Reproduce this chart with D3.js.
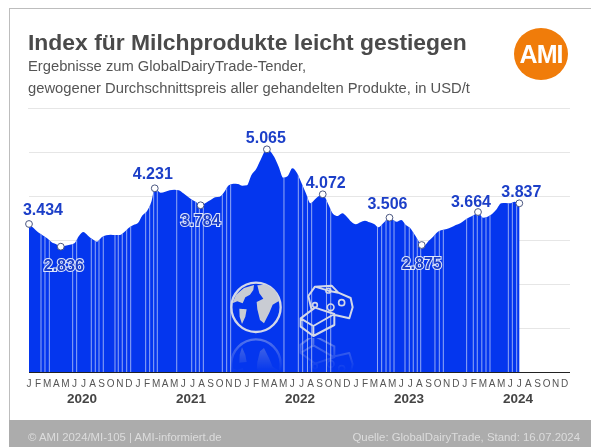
<!DOCTYPE html>
<html><head><meta charset="utf-8">
<script src="https://cdnjs.cloudflare.com/ajax/libs/d3/7.8.5/d3.min.js"></script>
<style>html,body{margin:0;padding:0;background:#fff}svg{display:block;filter:blur(0.35px)}text{font-family:"Liberation Sans",Arial,sans-serif}</style>
</head><body><div id="c"></div>
<script>
// Tender position in months since Jan 2020
const months = [0,.5,1,1.5,2,2.5,3,3.5,4,4.5,5,5.5,6,6.5,7,7.5,8,8.5,9,9.5,10,10.5,11,11.5,12,12.5,13,13.5,13.85,14.5,15,15.5,16,16.5,17,17.5,18,18.5,18.9,19.5,20,20.5,21,21.5,22,22.5,23,23.5,24,24.5,25,25.5,26.2,26.5,27,27.5,28,28.5,29,29.5,30,30.5,31,31.5,32.35,32.5,33,33.5,34,34.5,35,35.5,36,36.5,37,37.5,38,38.5,39,39.7,40,40.5,41,41.5,42,42.5,43.25,43.5,44,44.5,45,45.5,46,46.5,47,47.5,48,48.5,49,49.45,50,50.5,51,51.5,52,52.5,53,53.5,54];
const indexValues = [3364,3273,3175,3107,3039,2948,2902,2848,2870,2893,2925,3091,3182,3098,3016,2961,3061,3107,3120,3114,3114,3182,3280,3341,3386,3561,3659,3886,4175,4075,4098,4130,4143,4130,4061,3984,3909,3848,3789,3848,3909,3970,3984,4091,4243,4280,4273,4234,4243,4477,4607,4818,5061,5030,4893,4666,4416,4455,4630,4530,4302,4061,3834,3925,4039,4007,3795,3591,3545,3607,3530,3416,3357,3402,3439,3402,3364,3289,3380,3507,3470,3416,3455,3341,3266,3114,2886,2865,2977,3075,3182,3227,3250,3289,3341,3380,3455,3516,3568,3636,3507,3530,3591,3698,3834,3841,3834,3870,3834];
const stripeMonths = [1.32,1.76,2.24,4.81,5.25,6.86,7.3,7.71,8.18,9.47,9.83,10.27,10.76,11.2,12.85,13.29,13.73,14.13,16.27,17.92,18.36,18.76,19.2,21.29,21.77,22.21,28.08,29.66,30.14,30.67,31.13,32.76,33.23,38.38,38.84,39.32,39.76,40.2,41.41,41.88,42.32,42.76,43.14,44.71,45.19,45.63,48.2,48.93,49.37,49.87,50.33,50.77,52.79,53.23,53.71];
const calloutIdx = [0,7,28,38,52,64,79,86,99,108];
const calloutText = ["3.434","2.836","4.231","3.784","5.065","4.072","3.506","2.875","3.664","3.837"];
const calloutInside = [false,true,false,true,false,false,false,true,false,false];
const calloutDx = [14,3,-2,0,-1,3,-2,0,-7,2];
const calloutDy = [-9,24,-9,21,-6,-6,-9,24,-5,-6];
const monthLetters = "JFMAMJJASOND".split("");
const years = [2020,2021,2022,2023,2024];
const gridValues = [1000,2000,3000,4000,5000];

const W=591,H=447;
const svg=d3.select("#c").append("svg").attr("width",W).attr("height",H);
const x=d3.scaleLinear().domain([0,60]).range([29,573.8]);
const y=d3.scaleLinear().domain([0,5000]).range([372,152]);

// frame
svg.append("line").attr("x1",9).attr("x2",591).attr("y1",8.5).attr("y2",8.5).attr("stroke","#bdbdbd");
svg.append("line").attr("x1",9.5).attr("x2",9.5).attr("y1",8).attr("y2",420).attr("stroke","#bdbdbd");
svg.append("rect").attr("x",9).attr("y",420).attr("width",582).attr("height",27).attr("fill","#acacac");

// heading
svg.append("text").attr("x",28).attr("y",50).attr("font-size",22.9).attr("font-weight",700).attr("fill","#4a4a4a").text("Index für Milchprodukte leicht gestiegen");
svg.append("text").attr("x",28).attr("y",71).attr("font-size",14.75).attr("fill","#555").text("Ergebnisse zum GlobalDairyTrade-Tender,");
svg.append("text").attr("x",28).attr("y",93).attr("font-size",14.75).attr("fill","#555").text("gewogener Durchschnittspreis aller gehandelten Produkte, in USD/t");
svg.append("line").attr("x1",28).attr("x2",570).attr("y1",108.5).attr("y2",108.5).attr("stroke","#e6e6e6");

// logo
svg.append("ellipse").attr("cx",541).attr("cy",54).attr("rx",27).attr("ry",26).attr("fill","#f07c0a");
svg.append("text").attr("x",541).attr("y",63).attr("text-anchor","middle").attr("font-size",25).attr("font-weight",700).attr("letter-spacing",-1).attr("fill","#fff").text("AMI");

// gridlines
const grid=svg.append("g").attr("transform","translate(29,0)")
  .call(d3.axisRight(y).tickValues(gridValues).tickSize(541).tickFormat(""));
grid.select(".domain").remove();
grid.selectAll("line").attr("stroke","#e6e6e6");

// area
const area=d3.area().curve(d3.curveMonotoneX).x((d,i)=>x(months[i])).y0(y(0)).y1(d=>y(d));
svg.append("path").datum(indexValues).attr("d",area).attr("fill","#0436ee");
const clip=svg.append("clipPath").attr("id","ac");
clip.append("path").datum(indexValues).attr("d",area);
svg.append("g").attr("clip-path","url(#ac)").selectAll("line").data(stripeMonths).join("line")
  .attr("x1",d=>x(d)).attr("x2",d=>x(d)).attr("y1",y(0)).attr("y2",y(5200))
  .attr("stroke","#94aaf4").attr("stroke-width",1);

// icons
const stroke="#d3d8e8";
function globe(g){
  g.append("circle").attr("cx",168).attr("cy",112).attr("r",74).attr("fill","none").attr("stroke",stroke).attr("stroke-width",7);
  g.append("path").attr("fill","#c9ccd3").attr("d","M97,100L108,74L132,54L162,45L160,60L150,74L136,82L128,100L112,94Z M118,116L140,118L136,140L126,162L119,140Z M172,46L200,44L228,64L238,92L218,104L208,128L192,160L180,150L172,118L170,96L190,86L178,70Z");
}
function cheese(g){
  g.append("path").attr("fill","none").attr("stroke",stroke).attr("stroke-width",6).attr("stroke-linejoin","round")
   .attr("d","M325,78L345,50L395,47L415,68L452,84L458,112L448,145L405,135M325,78L335,120M345,50L385,62L415,68M302,145L345,113L403,132L403,165L340,198L302,170Z M302,145L340,168L403,132M340,168L340,198");
  g.append("g").selectAll("circle").data([[385,62,7],[425,98,9],[392,112,10],[345,105,7]]).join("circle")
   .attr("cx",d=>d[0]).attr("cy",d=>d[1]).attr("r",d=>d[2]).attr("fill","none").attr("stroke",stroke).attr("stroke-width",5);
}
const defs=svg.append("defs");
const lg=defs.append("linearGradient").attr("id","fade").attr("x1",0).attr("x2",0).attr("y1",0).attr("y2",1);
lg.append("stop").attr("offset",0).attr("stop-color","#fff").attr("stop-opacity",.4);
lg.append("stop").attr("offset",1).attr("stop-color","#fff").attr("stop-opacity",0);
defs.append("mask").attr("id","fm").attr("maskUnits","userSpaceOnUse").attr("x",220).attr("y",338).attr("width",140).attr("height",34)
  .append("rect").attr("x",220).attr("y",338).attr("width",140).attr("height",34).attr("fill","url(#fade)");
const icons=svg.append("g").attr("transform","translate(200,270) scale(0.3333)");
globe(icons);cheese(icons);
const refl=svg.append("g").attr("mask","url(#fm)").append("g").attr("transform","translate(200,270) scale(0.3333) translate(0,394) scale(1,-1)");
globe(refl);cheese(refl);

// month and year axis
const ax=svg.append("g").attr("transform",`translate(0,${y(0)+0.5})`)
  .call(d3.axisBottom(x).tickValues(d3.range(60)).tickSize(0).tickPadding(7).tickFormat(d=>monthLetters[d%12]));
ax.select(".domain").attr("stroke","#222").attr("d","M29,0H570");
ax.selectAll("text").attr("font-size",10).attr("fill","#555").attr("font-family",'"Liberation Sans",Arial,sans-serif').attr("dx",-0.5);
svg.append("g").selectAll("text").data(years).join("text")
  .attr("x",(d,i)=>x(i*12+5.85)).attr("y",403).attr("text-anchor","middle")
  .attr("font-size",13.5).attr("font-weight",700).attr("fill","#444").text(d=>d);

// markers and callouts
svg.append("g").selectAll("circle").data(calloutIdx).join("circle")
  .attr("cx",i=>x(months[i])).attr("cy",i=>y(indexValues[i])).attr("r",3.4)
  .attr("fill","#fff").attr("stroke","#4a5680").attr("stroke-width",1);
svg.append("g").selectAll("text").data(calloutIdx).join("text")
  .attr("x",(d,k)=>x(months[d])+calloutDx[k]).attr("y",(d,k)=>y(indexValues[d])+calloutDy[k])
  .attr("text-anchor","middle").attr("font-size",16).attr("font-weight",700)
  .attr("fill","#1c3fc8").attr("stroke",(d,k)=>calloutInside[k]?"#dfe6fb":"none").attr("stroke-width",2)
  .attr("paint-order","stroke").text((d,k)=>calloutText[k]);

// footer
svg.append("text").attr("x",28).attr("y",441).attr("font-size",11.35).attr("fill","#dcdcdc").text("© AMI 2024/MI-105 | AMI-informiert.de");
svg.append("text").attr("x",580).attr("y",441).attr("text-anchor","end").attr("font-size",11.4).attr("fill","#dcdcdc").text("Quelle: GlobalDairyTrade, Stand: 16.07.2024");
</script></body></html>
